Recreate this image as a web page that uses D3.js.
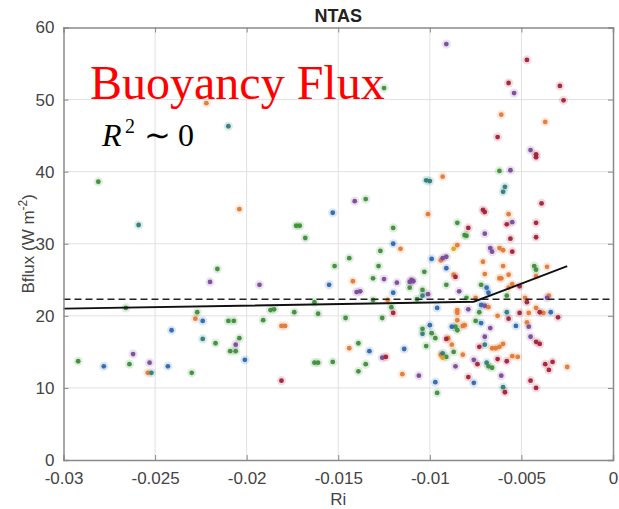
<!DOCTYPE html>
<html>
<head>
<meta charset="utf-8">
<script src="https://cdn.jsdelivr.net/npm/d3@7"></script>
<style>
  html, body { margin: 0; padding: 0; background: #fff; }
  svg { display: block; }
</style>
</head>
<body>
<svg id="chart" width="619" height="509"></svg>
<script>
// Axis ticks
const riTicks = [-0.03, -0.025, -0.02, -0.015, -0.01, -0.005, 0];
const riTickLabels = ["-0.03", "-0.025", "-0.02", "-0.015", "-0.01", "-0.005", "0"];
const bfluxTicks = [0, 10, 20, 30, 40, 50, 60];

// Piecewise fit and mean level
const fitRi = [-0.03, -0.0076, -0.0025];
const fitBflux = [21.0, 21.95, 26.9];
const meanBflux = 22.3;

// Observations, grouped by series colour: [Ri, Bflux]
const greenPts = [[-0.0292,13.7],[-0.0281,38.6],[-0.0266,21.1],[-0.0264,13.3],[-0.0230,12.1],[-0.0227,20.5],
  [-0.0217,16.2],[-0.0216,26.5],[-0.0210,19.3],[-0.0207,19.3],[-0.0209,15.1],[-0.0206,15.1],[-0.0204,16.9],
  [-0.0191,19.4],[-0.0187,20.8],[-0.0185,20.9],[-0.0174,20.5],[-0.0173,32.5],[-0.0171,32.5],[-0.0168,30.8],
  [-0.0163,21.9],[-0.0163,13.5],[-0.0161,13.5],[-0.0161,20.3],[-0.0153,13.6],[-0.0152,26.9],[-0.0146,19.7],
  [-0.0144,28.0],[-0.0139,16.2],[-0.0139,12.3],[-0.0135,36.2],[-0.0135,13.3],[-0.0131,25.2],[-0.0131,22.2],
  [-0.0128,26.9],[-0.0127,29.0],[-0.0126,19.7],[-0.0125,51.6],[-0.0121,21.2],[-0.0120,32.2],[-0.0111,23.9],
  [-0.0107,22.3],[-0.0104,23.6],[-0.0103,26.1],[-0.0104,18.2],[-0.0102,15.8],[-0.0099,17.6],[-0.0097,16.9],
  [-0.0096,9.3],[-0.0091,14.3],[-0.0091,24.3],[-0.0087,15.0],[-0.0086,18.5],[-0.0085,32.9],[-0.0085,18.0],
  [-0.0081,31.2],[-0.0080,31.1],[-0.0080,22.5],[-0.0075,19.3],[-0.0073,20.5],[-0.0072,24.3],[-0.0068,13.0],
  [-0.0066,12.8],[-0.0062,40.1],[-0.0058,22.8],[-0.0043,26.9],[-0.0042,26.4]];

const bluePts = [[-0.0278,13.0],[-0.0243,13.0],[-0.0241,18.0],[-0.0224,19.3],[-0.0201,13.9],[-0.0155,24.3],
  [-0.0153,34.3],[-0.0133,15.1],[-0.0120,30.0],[-0.0120,23.2],[-0.0114,15.4],[-0.0100,18.7],[-0.0099,27.9],
  [-0.0097,10.8],[-0.0096,21.1],[-0.0091,26.6],[-0.0088,18.5],[-0.0076,10.7],[-0.0072,21.5],[-0.0072,19.0],
  [-0.0069,23.9],[-0.0068,23.2],[-0.0053,18.6],[-0.0034,20.5]];

const orangePts = [[-0.0254,12.1],[-0.0228,19.6],[-0.0222,49.5],[-0.0204,34.8],[-0.0181,18.6],[-0.0179,18.6],
  [-0.0144,15.5],[-0.0142,24.8],[-0.0123,22.2],[-0.0116,29.3],[-0.0115,11.9],[-0.0101,34.1],[-0.0094,27.7],
  [-0.0094,14.6],[-0.0093,39.3],[-0.0090,16.9],[-0.0088,16.0],[-0.0087,25.7],[-0.0085,29.8],[-0.0085,20.8],
  [-0.0085,20.4],[-0.0085,19.4],[-0.0082,18.6],[-0.0082,14.6],[-0.0081,18.7],[-0.0075,22.5],[-0.0068,21.2],
  [-0.0071,27.5],[-0.0070,25.8],[-0.0066,15.5],[-0.0064,15.5],[-0.0062,15.7],[-0.0060,16.1],[-0.0063,20.0],
  [-0.0062,29.4],[-0.0060,29.1],[-0.0062,25.2],[-0.0061,25.2],[-0.0061,47.9],[-0.0060,26.9],[-0.0057,34.1],
  [-0.0057,23.9],[-0.0057,25.7],[-0.0055,24.4],[-0.0055,14.4],[-0.0052,14.3],[-0.0048,22.5],[-0.0047,19.1],
  [-0.0046,20.4],[-0.0042,25.5],[-0.0042,21.1],[-0.0038,20.4],[-0.0037,46.9],[-0.0036,26.8],[-0.0035,22.8],
  [-0.0025,12.9]];

const yellowPts = [[-0.0093,14.2],[-0.0087,29.3]];

const purplePts = [[-0.0262,14.7],[-0.0253,13.5],[-0.0220,24.7],[-0.0206,16.0],[-0.0193,24.3],[-0.0141,35.9],
  [-0.0140,23.3],[-0.0138,23.4],[-0.0126,14.2],[-0.0125,25.1],[-0.0118,24.6],[-0.0111,24.7],[-0.0110,25.0],
  [-0.0109,24.8],[-0.0106,11.7],[-0.0101,23.0],[-0.0093,28.0],[-0.0091,28.2],[-0.0091,57.7],[-0.0086,13.0],
  [-0.0084,23.4],[-0.0079,20.9],[-0.0076,13.9],[-0.0070,21.4],[-0.0070,31.4],[-0.0070,17.1],[-0.0067,29.4],
  [-0.0066,28.9],[-0.0067,18.3],[-0.0061,11.7],[-0.0056,40.2],[-0.0055,33.0],[-0.0054,50.9],[-0.0046,18.5],
  [-0.0045,43.0],[-0.0045,17.1],[-0.0036,22.5]];

const tealPts = [[-0.0259,32.6],[-0.0252,12.1],[-0.0224,16.8],[-0.0210,46.3],[-0.0104,22.8],[-0.0104,17.5],
  [-0.0102,38.8],[-0.0100,38.7],[-0.0093,14.8],[-0.0070,16.0],[-0.0069,13.5],[-0.0060,37.2],[-0.0059,37.9],
  [-0.0060,10.1],[-0.0058,20.5]];

const redPts = [[-0.0181,11.0],[-0.0124,14.3],[-0.0120,20.4],[-0.0091,16.8],[-0.0086,25.4],[-0.0079,11.5],
  [-0.0079,32.2],[-0.0074,13.3],[-0.0071,34.7],[-0.0070,34.4],[-0.0073,15.7],[-0.0063,14.0],[-0.0063,44.8],
  [-0.0059,9.4],[-0.0058,32.7],[-0.0058,13.7],[-0.0057,19.6],[-0.0057,52.3],[-0.0056,30.7],[-0.0055,28.9],
  [-0.0051,20.4],[-0.0051,24.1],[-0.0047,55.5],[-0.0047,21.9],[-0.0045,11.0],[-0.0042,42.4],[-0.0042,42.0],
  [-0.0042,32.9],[-0.0042,30.9],[-0.0042,16.4],[-0.0040,16.1],[-0.0042,10.0],[-0.0040,20.5],[-0.0039,35.6],
  [-0.0037,13.3],[-0.0035,12.5],[-0.0033,13.6],[-0.0030,19.8],[-0.0029,51.9],[-0.0027,49.9]];

const series = [
  { pts: greenPts,  color: "#3d8f3a" },
  { pts: bluePts,   color: "#2b68b0" },
  { pts: orangePts, color: "#e27a35" },
  { pts: yellowPts, color: "#d9a41f" },
  { pts: purplePts, color: "#7a4a96" },
  { pts: tealPts,   color: "#2e7c7c" },
  { pts: redPts,    color: "#a3203a" }
];

const svg = d3.select("#chart");
const plotLeft = 63.5, plotRight = 613, plotTop = 27.5, plotBottom = 460;

const x = d3.scaleLinear().domain([-0.03, 0]).range([plotLeft, plotRight]);
const y = d3.scaleLinear().domain([0, 60]).range([plotBottom, plotTop]);

// grid
const grid = svg.append("g");
grid.append("g").selectAll("line").data(riTicks.slice(1, -1)).join("line")
  .attr("x1", d => x(d)).attr("x2", d => x(d)).attr("y1", plotTop).attr("y2", plotBottom)
  .attr("stroke", "#e1e1e1").attr("stroke-width", 1);
grid.append("g").selectAll("line").data(bfluxTicks.slice(1, -1)).join("line")
  .attr("x1", plotLeft).attr("x2", plotRight).attr("y1", d => y(d)).attr("y2", d => y(d))
  .attr("stroke", "#e1e1e1").attr("stroke-width", 1);

// points: soft halo then core
const pts = svg.append("g");
series.forEach(s => {
  pts.append("g").selectAll("circle").data(s.pts).join("circle")
    .attr("cx", d => x(d[0])).attr("cy", d => y(d[1])).attr("r", 4.6)
    .attr("fill", s.color).attr("fill-opacity", 0.16);
});
series.forEach(s => {
  pts.append("g").selectAll("circle").data(s.pts).join("circle")
    .attr("cx", d => x(d[0])).attr("cy", d => y(d[1])).attr("r", 2.4)
    .attr("fill", s.color).attr("fill-opacity", 0.95);
});

// mean level (dashed) and piecewise fit (solid)
svg.append("line")
  .attr("x1", x(-0.03)).attr("x2", x(0))
  .attr("y1", y(meanBflux)).attr("y2", y(meanBflux))
  .attr("stroke", "#222").attr("stroke-width", 1.7).attr("stroke-dasharray", "7,4");

svg.append("path")
  .datum(fitRi.map((r, i) => [r, fitBflux[i]]))
  .attr("d", d3.line().x(d => x(d[0])).y(d => y(d[1])))
  .attr("fill", "none").attr("stroke", "#111").attr("stroke-width", 2);

// axes box with inward ticks
const xAxisB = d3.axisBottom(x).tickValues(riTicks).tickSize(-5).tickFormat((d, i) => riTickLabels[i]).tickPadding(12);
const xAxisT = d3.axisTop(x).tickValues(riTicks).tickSize(-5).tickFormat("");
const yAxisL = d3.axisLeft(y).tickValues(bfluxTicks).tickSize(-5).tickPadding(9);
const yAxisR = d3.axisRight(y).tickValues(bfluxTicks).tickSize(-5).tickFormat("");

function styleAxis(g) {
  g.select(".domain").attr("stroke", "#8a8a8a").attr("stroke-width", 1.5);
  g.selectAll(".tick line").attr("stroke", "#8a8a8a").attr("stroke-width", 1);
  g.selectAll(".tick text").attr("fill", "#444").attr("font-size", 17)
    .attr("font-family", "Liberation Sans, Arial, sans-serif");
}
svg.append("g").attr("transform", `translate(0,${plotBottom})`).call(xAxisB).call(styleAxis);
svg.append("g").attr("transform", `translate(0,${plotTop})`).call(xAxisT).call(styleAxis);
svg.append("g").attr("transform", `translate(${plotLeft},0)`).call(yAxisL).call(styleAxis);
svg.append("g").attr("transform", `translate(${plotRight},0)`).call(yAxisR).call(styleAxis);

// title and axis labels
svg.append("text").attr("x", (plotLeft + plotRight) / 2).attr("y", 22)
  .attr("text-anchor", "middle").attr("font-family", "Liberation Sans, Arial, sans-serif")
  .attr("font-weight", "bold").attr("font-size", 18).attr("fill", "#222").text("NTAS");

svg.append("text").attr("x", (plotLeft + plotRight) / 2).attr("y", 505)
  .attr("text-anchor", "middle").attr("font-family", "Liberation Sans, Arial, sans-serif")
  .attr("font-size", 17).attr("fill", "#444").text("Ri");

const yl = svg.append("text")
  .attr("transform", `translate(34,${(plotTop + plotBottom) / 2}) rotate(-90)`)
  .attr("text-anchor", "middle").attr("font-family", "Liberation Sans, Arial, sans-serif")
  .attr("font-size", 17).attr("fill", "#444");
yl.append("tspan").text("Bflux (W m");
yl.append("tspan").attr("dy", -7).attr("font-size", 12).text("-2");
yl.append("tspan").attr("dy", 7).text(")");

// annotations
svg.append("text").attr("x", 90).attr("y", 99)
  .attr("font-family", "Liberation Serif, Times New Roman, serif")
  .attr("font-size", 48).attr("fill", "#ff0000").text("Buoyancy Flux");

const r2 = svg.append("text").attr("y", 146)
  .attr("font-family", "Liberation Serif, Times New Roman, serif").attr("fill", "#000");
r2.append("tspan").attr("x", 102).attr("font-size", 32).attr("font-style", "italic").text("R");
r2.append("tspan").attr("x", 125).attr("dy", -13).attr("font-size", 20).text("2");
r2.append("tspan").attr("x", 144).attr("dy", 13).attr("font-size", 32).text("∼");
r2.append("tspan").attr("x", 178).attr("font-size", 32).text("0");
</script>
</body>
</html>
